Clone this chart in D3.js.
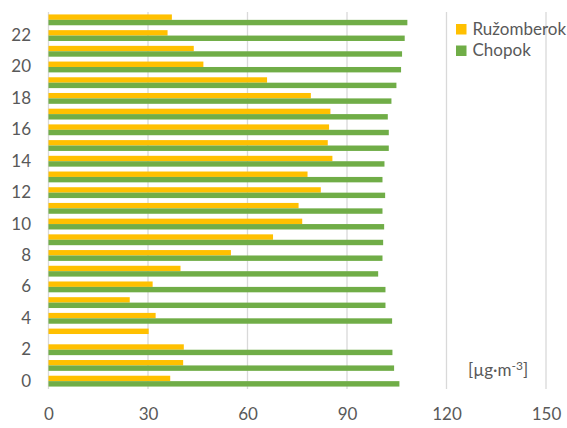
<!DOCTYPE html>
<html>
<head>
<meta charset="utf-8">
<script src="https://cdn.jsdelivr.net/npm/d3@7"></script>
<style>
    body { margin: 0; background: #fff; }
    text { font-family: "Lato", "Liberation Sans", sans-serif; fill: #595959; }
</style>
</head>
<body>
<div id="chart"></div>
<script>
// hours of the day, 0 at the bottom
const hours = d3.range(0, 24);
const seriesNames = ["Ružomberok", "Chopok"];
const colors = ["#FFC000", "#70AD47"];
const ruzomberok = [36.7, 40.6, 40.8, 30.2, 32.3, 24.5, 31.4, 39.8, 55.0, 67.7, 76.5, 75.4,
    82.1, 78.1, 85.6, 84.2, 84.6, 85.0, 79.1, 65.9, 46.7, 43.8, 35.9, 37.2];
const chopok = [105.8, 104.2, 103.7, null, 103.6, 101.6, 101.6, 99.4, 100.7, 100.9, 101.2, 100.7,
    101.5, 100.7, 101.3, 102.6, 102.6, 102.3, 103.4, 104.9, 106.3, 106.6, 107.4, 108.2];
const xTicks = [0, 30, 60, 90, 120, 150];
const yTickLabels = [0, 2, 4, 6, 8, 10, 12, 14, 16, 18, 20, 22];

const width = 567, height = 428;
const margin = { left: 48.5, right: 21, top: 12, bottom: 39 };
const fontSize = "17px";

const svg = d3.select("#chart").append("svg")
    .attr("width", width)
    .attr("height", height);

const x = d3.scaleLinear()
    .domain([0, 150])
    .range([margin.left, width - margin.right]);

const y = d3.scaleBand()
    .domain(hours)
    .range([height - margin.bottom, margin.top])
    .paddingInner(0.31)
    .paddingOuter(0.155);

const inner = d3.scaleBand()
    .domain([0, 1])
    .range([0, y.bandwidth()]);

// vertical gridlines
svg.append("g")
    .selectAll("line")
    .data(xTicks)
    .join("line")
    .attr("x1", d => x(d)).attr("x2", d => x(d))
    .attr("y1", margin.top).attr("y2", height - margin.bottom)
    .attr("stroke", "#D9D9D9")
    .attr("stroke-width", 1.3);

// bars, yellow above green inside each hour
const data = [];
hours.forEach((h, i) => {
    data.push({ hour: h, s: 0, v: ruzomberok[i] });
    if (chopok[i] != null) data.push({ hour: h, s: 1, v: chopok[i] });
});

svg.append("g")
    .selectAll("rect")
    .data(data)
    .join("rect")
    .attr("x", x(0))
    .attr("y", d => y(d.hour) + inner(d.s))
    .attr("width", d => x(d.v) - x(0))
    .attr("height", inner.bandwidth())
    .attr("fill", d => colors[d.s]);

// axes
const xAxis = svg.append("g")
    .attr("transform", `translate(0,${height - margin.bottom})`)
    .call(d3.axisBottom(x).tickValues(xTicks).tickSize(0).tickPadding(19));
xAxis.select(".domain").remove();
xAxis.selectAll("text").style("font-size", fontSize).attr("fill", "#595959");

const yAxis = svg.append("g")
    .attr("transform", `translate(${margin.left},0)`)
    .call(d3.axisLeft(y).tickValues(yTickLabels).tickSize(0).tickPadding(17.5));
yAxis.select(".domain").remove();
yAxis.selectAll("text").style("font-size", fontSize).attr("fill", "#595959");

// legend
const legend = svg.append("g").attr("transform", "translate(456,24)");
seriesNames.forEach((name, i) => {
    const g = legend.append("g").attr("transform", `translate(0,${i * 21.5})`);
    g.append("rect").attr("width", 10.5).attr("height", 10.5).attr("fill", colors[i]);
    g.append("text").attr("x", 16.5).attr("y", 10.5)
        .style("font-size", fontSize).text(name);
});

// unit label
const unit = svg.append("text")
    .attr("x", 468).attr("y", 376)
    .style("font-size", fontSize);
unit.append("tspan").text("[µg·m");
unit.append("tspan").attr("dy", -6).style("font-size", "12px").text("-3");
unit.append("tspan").attr("dy", 6).text("]");
</script>
</body>
</html>
